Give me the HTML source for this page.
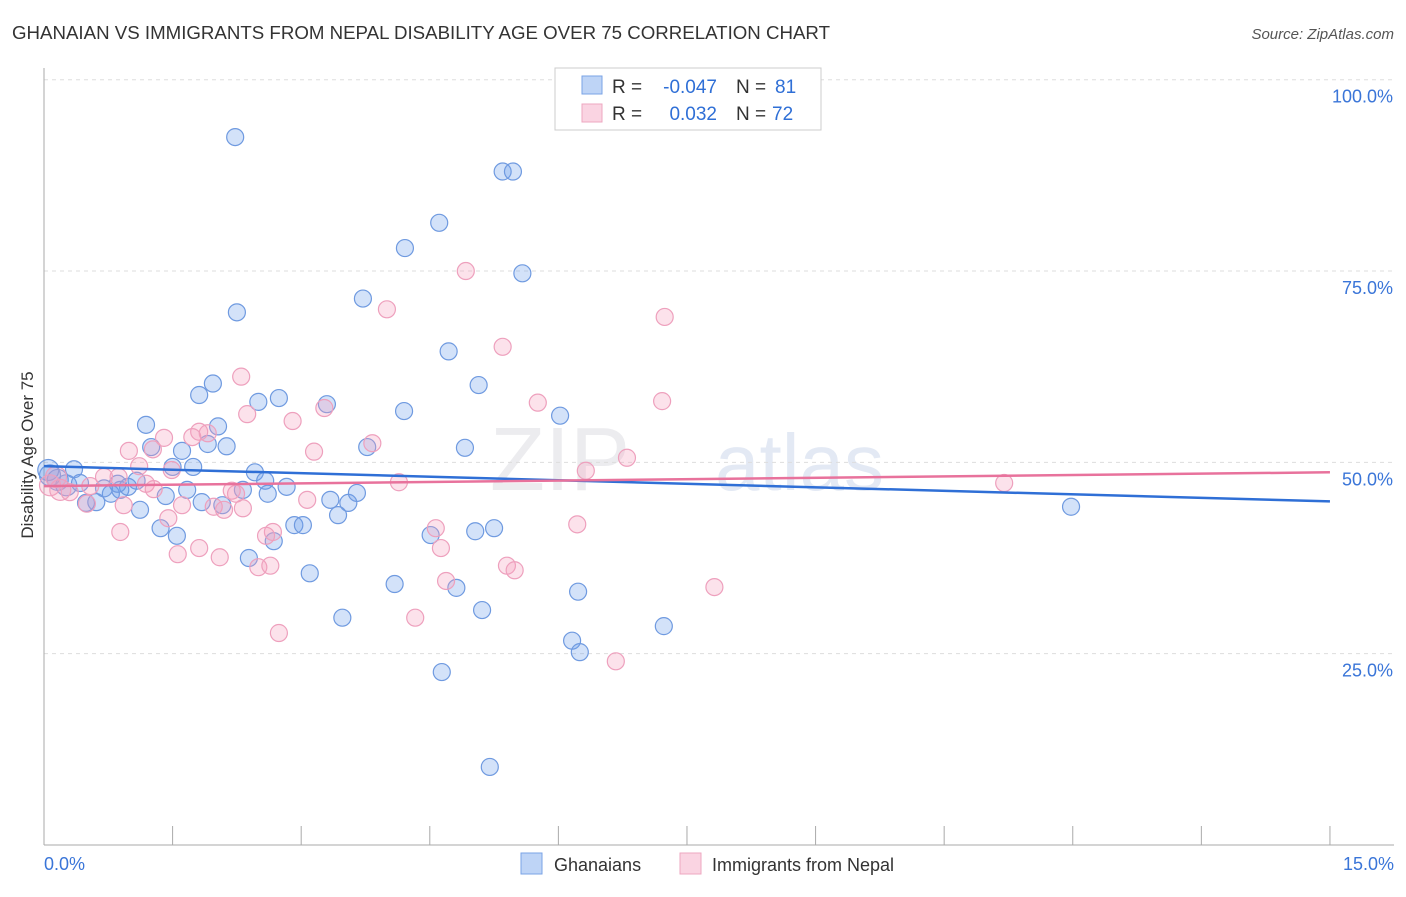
<!DOCTYPE html>
<html><head><meta charset="utf-8">
<style>
body{margin:0;background:#fff;font-family:"Liberation Sans",sans-serif;}
svg text{font-family:"Liberation Sans",sans-serif;}
</style></head>
<body>
<svg id="chart" width="1406" height="892">
<text x="12" y="39" font-size="18" fill="#333" textLength="818" lengthAdjust="spacingAndGlyphs">GHANAIAN VS IMMIGRANTS FROM NEPAL DISABILITY AGE OVER 75 CORRELATION CHART</text>
<text x="1394" y="39" font-size="15" fill="#555" text-anchor="end" font-style="italic">Source: ZipAtlas.com</text>
<text x="33" y="455" font-size="17" fill="#333" text-anchor="middle" transform="rotate(-90 33 455)">Disability Age Over 75</text>
<text x="630" y="490" font-size="90" fill="#ececef" font-family="Liberation Serif" text-anchor="end">ZIP</text>
<text x="715" y="490" font-size="80" fill="#e3e9f4">atlas</text>
<g id="grid"></g><g id="axes"></g><g id="pts"></g><g id="lines"></g>
<g>
<rect x="555" y="68" width="266" height="62" fill="#fff" stroke="#ccc"/>
<rect x="582" y="76" width="20" height="18" fill="rgba(110,160,235,0.45)" stroke="#7aa3e6"/>
<rect x="582" y="104" width="20" height="18" fill="rgba(245,160,190,0.45)" stroke="#eea7c0"/>
<text x="612" y="93" font-size="19" fill="#333">R =</text>
<text x="717" y="93" font-size="19" fill="#2f6fd6" text-anchor="end">-0.047</text>
<text x="736" y="93" font-size="19" fill="#333">N =</text>
<text x="775" y="93" font-size="19" fill="#2f6fd6">81</text>
<text x="612" y="120" font-size="19" fill="#333">R =</text>
<text x="717" y="120" font-size="19" fill="#2f6fd6" text-anchor="end">0.032</text>
<text x="736" y="120" font-size="19" fill="#333">N =</text>
<text x="772" y="120" font-size="19" fill="#2f6fd6">72</text>
</g>
<g>
<rect x="521" y="853" width="21" height="21" fill="rgba(110,160,235,0.45)" stroke="#7aa3e6"/>
<text x="554" y="871" font-size="18" fill="#333">Ghanaians</text>
<rect x="680" y="853" width="21" height="21" fill="rgba(245,160,190,0.45)" stroke="#eea7c0"/>
<text x="712" y="871" font-size="18" fill="#333">Immigrants from Nepal</text>
</g>
</svg>
<script>
const blueX=[2.23,5.35,5.47,4.61,4.21,5.58,3.72,2.25,4.72,5.07,1.97,1.81,2.74,2.50,4.20,3.30,6.02,1.19,2.03,1.25,1.91,1.61,2.13,3.77,4.91,0.35,1.50,1.74,2.46,2.58,1.08,1.67,2.32,2.83,3.34,3.55,3.65,1.42,1.84,2.08,2.61,0.78,0.61,1.12,0.49,3.43,1.36,1.55,2.92,3.02,2.68,4.51,5.03,5.25,2.39,3.10,4.09,4.81,6.23,5.11,3.48,6.16,6.25,7.23,4.64,5.20,11.98,0.07,0.16,0.26,0.42,0.70,0.89,0.98,0.86,0.05];
const blueY=[92.5,88.0,88.0,81.3,78.0,74.7,71.4,69.6,64.5,60.1,60.3,58.8,58.4,57.9,56.7,57.6,56.1,54.9,54.7,52.0,52.4,51.5,52.1,52.0,51.9,49.1,49.4,49.4,48.7,47.6,47.6,46.4,46.4,46.8,45.1,44.7,46.0,45.6,44.8,44.4,45.9,45.9,44.8,43.8,44.7,43.1,41.4,40.4,41.8,41.8,39.7,40.5,41.0,41.4,37.5,35.5,34.1,33.6,33.1,30.7,29.7,26.7,25.2,28.6,22.6,10.2,44.2,48.3,47.7,47.0,47.3,46.6,46.4,46.8,47.2,49.0];
const pinkX=[4.92,4.00,7.24,5.35,2.30,5.76,7.21,2.37,2.90,3.27,1.91,1.81,1.73,1.27,0.99,1.40,3.15,3.83,6.80,6.32,1.49,1.11,0.87,0.70,1.19,1.28,2.19,2.24,4.14,11.20,3.07,1.98,2.32,2.10,1.61,0.93,0.50,1.45,4.57,6.22,2.67,2.59,0.89,1.56,1.81,2.05,4.63,2.50,2.64,5.40,5.49,4.69,7.82,4.33,2.74,6.67,0.07,0.19,0.30,0.54,0.14];
const pinkY=[75.0,70.0,69.0,65.1,61.2,57.8,58.0,56.3,55.4,57.1,53.8,54.0,53.3,51.7,51.5,53.2,51.4,52.5,50.6,48.9,49.0,49.5,48.1,48.1,47.2,46.5,46.3,45.9,47.4,47.3,45.1,44.2,44.0,43.8,44.4,44.4,44.6,42.7,41.4,41.9,40.9,40.4,40.9,38.0,38.8,37.6,38.8,36.3,36.5,36.5,35.9,34.5,33.7,29.7,27.7,24.0,47.0,46.4,46.1,46.9,48.1];
const blueTrend=[49.5,44.9];
const pinkTrend=[46.9,48.7];
const yTicks=[25,50,75,100];
const xTicks=[0,1.5,3,4.5,6,7.5,9,10.5,12,13.5,15];
const NS="http://www.w3.org/2000/svg";
const sx=v=>44+v*85.73, sy=v=>845-v*7.653;
function mk(tag,attrs,parent){const e=document.createElementNS(NS,tag);for(const k in attrs)e.setAttribute(k,attrs[k]);document.getElementById(parent).appendChild(e);return e;}
yTicks.forEach(t=>{
  const l=mk('line',{x1:44,x2:1394,y1:sy(t),y2:sy(t),stroke:'#ddd','stroke-dasharray':'4,4'},'grid');
  
  
  const tx=mk('text',{x:1393,y:sy(t)+23,'font-size':18,fill:'#3a75d8','text-anchor':'end'},'grid');
  tx.textContent=t.toFixed(1)+'%';
  
  
});
const ax=mk('line',{x1:44,x2:1394,y1:845,y2:845,stroke:'#aaa'},'axes');


const ay=mk('line',{x1:44,x2:44,y1:68,y2:845,stroke:'#aaa'},'axes');


xTicks.forEach(t=>{
  const l=mk('line',{x1:sx(t),x2:sx(t),y1:826,y2:845,stroke:'#aaa'},'axes');
  
  
});
[[0,'0.0%','start',44],[15,'15.0%','end',1394]].forEach(a=>{
  const tx=mk('text',{x:a[3],y:870,'font-size':18,fill:'#3a75d8','text-anchor':a[2]},'axes');
  tx.textContent=a[1];
  
  
});
function pts(X,Y,fill,stroke,name){
  X.forEach((x,i)=>{
    const r=x<0.3?10.5:8.5;
    const c=mk('circle',{cx:sx(x),cy:sy(Y[i]),r:r,fill:fill,stroke:stroke,'stroke-width':1.2},'pts');
    
    
  });
}
pts(blueX,blueY,'rgba(110,160,235,0.3)','#6f9ae0','ghanaian-point');
pts(pinkX,pinkY,'rgba(245,160,190,0.3)','#eea0bd','nepal-point');
const bl=mk('line',{x1:sx(0),y1:sy(blueTrend[0]),x2:sx(15),y2:sy(blueTrend[1]),stroke:'#2f6fd6','stroke-width':2.5},'lines');


const pl=mk('line',{x1:sx(0),y1:sy(pinkTrend[0]),x2:sx(15),y2:sy(pinkTrend[1]),stroke:'#e8729c','stroke-width':2.5},'lines');


</script>
</body></html>
